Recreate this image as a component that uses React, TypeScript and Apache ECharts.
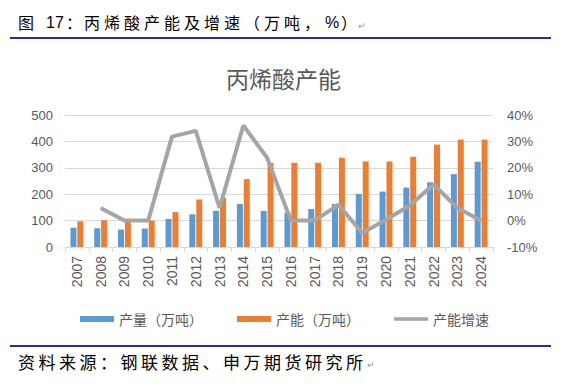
import React, { useEffect, useRef } from "react";
import * as echarts from "echarts";

const years = ["2007","2008","2009","2010","2011","2012","2013","2014","2015","2016","2017","2018","2019","2020","2021","2022","2023","2024"];
const output = [73, 71, 66, 70, 106, 124, 137, 163, 137, 130, 144, 163, 201, 210, 225, 245, 276, 323];
const capacity = [97, 101, 95, 100, 132, 180, 186, 257, 319, 319, 319, 338, 324, 324, 342, 388, 407, 407];
const growth: (number | null)[] = [null, 4.8, 0, 0, 31.8, 34, 4.8, 36, 23.8, 0, 0, 6, -4.7, 0.3, 5.7, 13.7, 4.8, 0];
const leftTicks = { min: 0, max: 500, interval: 100 };
const rightTicks = { min: -10, max: 40, interval: 10 };

const seriesNames = ["产量（万吨）", "产能（万吨）", "产能增速"];
const chartTitle = "丙烯酸产能";
const sourceText = "资料来源：钢联数据、申万期货研究所";

const CJK = '"Noto Sans CJK SC", "Noto Sans", sans-serif';
const LAT = '"Liberation Sans", Arial, sans-serif';

function headerGraphics() {
  const toks: [string, number][] = [["图", 18], ["17", 46], ["：", 66]];
  const mid = "丙烯酸产能及增速";
  for (let i = 0; i < mid.length; i++) toks.push([mid[i], 84 + 20 * i]);
  toks.push(["（", 244], ["万", 264], ["吨", 284], ["，", 304], ["%", 325], ["）", 341]);
  const els: any[] = toks.map(([t, x]) => ({
    type: "text", x, y: 22,
    style: { text: t, font: `16px ${/[0-9%]/.test(t) ? LAT : CJK}`, fill: "#000", verticalAlign: "middle" },
  }));
  els.push({ type: "text", x: 358, y: 25, style: { text: "↵", font: `9px ${CJK}`, fill: "#999", verticalAlign: "middle" } });
  return els;
}

function sourceGraphics() {
  const els: any[] = [];
  for (let i = 0; i < sourceText.length; i++) {
    els.push({ type: "text", x: 18 + 20.5 * i, y: 361, style: { text: sourceText[i], font: `17px ${CJK}`, fill: "#000", verticalAlign: "middle" } });
  }
  els.push({ type: "text", x: 18 + 20.5 * sourceText.length, y: 364, style: { text: "↵", font: `9px ${CJK}`, fill: "#999", verticalAlign: "middle" } });
  return els;
}

export default function App() {
  const ref = useRef<HTMLDivElement>(null);
  useEffect(() => {
    if (!ref.current) return;
    const chart = echarts.init(ref.current, undefined, { renderer: "svg" });
    chart.setOption({
      animation: false,
      backgroundColor: "#fff",
      textStyle: { fontFamily: CJK },
      title: {
        text: chartTitle, left: "center", top: 61,
        textStyle: { fontSize: 23, fontWeight: "normal", color: "#595959", fontFamily: CJK },
      },
      grid: { left: 65, right: 74, top: 115, bottom: 141 },
      legend: {
        left: 75, top: 307, itemWidth: 34, itemHeight: 6, itemGap: 34,
        textStyle: { fontSize: 14, color: "#595959", fontFamily: CJK },
        data: [
          { name: seriesNames[0], icon: "rect" },
          { name: seriesNames[1], icon: "rect" },
          { name: seriesNames[2], icon: "path://M0 0H34V3.5H0Z" },
        ],
      },
      xAxis: {
        type: "category", data: years, boundaryGap: true,
        axisLine: { lineStyle: { color: "#d9d9d9" } },
        axisTick: { show: true, length: 5, lineStyle: { color: "#d9d9d9" } },
        axisLabel: { rotate: 90, fontSize: 14, color: "#595959", margin: 9, fontFamily: LAT },
      },
      yAxis: [
        {
          type: "value", ...leftTicks,
          axisLine: { show: false }, axisTick: { show: false },
          splitLine: { lineStyle: { color: "#d9d9d9" } },
          axisLabel: { fontSize: 13, color: "#595959", margin: 12, fontFamily: LAT },
        },
        {
          type: "value", ...rightTicks, position: "right",
          axisLine: { show: false }, axisTick: { show: false },
          splitLine: { show: false },
          axisLabel: { fontSize: 13, color: "#595959", margin: 14, formatter: "{value}%", fontFamily: LAT },
        },
      ],
      series: [
        { name: seriesNames[0], type: "bar", data: output, barWidth: 6, barGap: "15%", itemStyle: { color: "#5b9bd5" } },
        { name: seriesNames[1], type: "bar", data: capacity, barWidth: 6, barGap: "15%", itemStyle: { color: "#ed7d31" } },
        {
          name: seriesNames[2], type: "line", yAxisIndex: 1, data: growth, symbol: "none",
          lineStyle: { color: "#a5a5a5", width: 4 }, itemStyle: { color: "#a5a5a5" },
        },
      ],
      graphic: [
        ...headerGraphics(),
        { type: "line", shape: { x1: 10, y1: 38, x2: 551, y2: 38 }, style: { stroke: "#2b2b8c", lineWidth: 2 } },
        { type: "line", shape: { x1: 10, y1: 346, x2: 551, y2: 346 }, style: { stroke: "#2b2b8c", lineWidth: 2 } },
        ...sourceGraphics(),
      ],
    });
    return () => chart.dispose();
  }, []);
  return <div ref={ref} style={{ position: "fixed", left: 0, top: 0, width: 567, height: 388, background: "#fff" }} />;
}
